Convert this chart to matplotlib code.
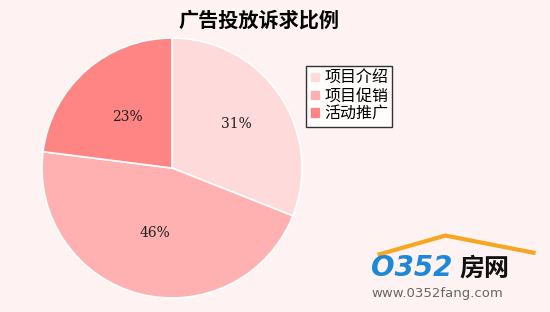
import matplotlib
matplotlib.use("Agg")
import matplotlib.pyplot as plt
import numpy as np

labels = ["项目介绍", "项目促销", "活动推广"]
shares = [31, 46, 23]
colors = ["#FFDADA", "#FFB0B0", "#FF8484"]
title = "广告投放诉求比例"

plt.rcParams['font.family'] = ['Noto Sans CJK SC', 'DejaVu Sans']

fig = plt.figure(figsize=(5.5, 3.12), dpi=100)
fig.patch.set_facecolor("#FFF2F2")

# pie axes: centre (172,168) px, radius 130 px
ax = fig.add_axes([42 / 550, 14 / 312, 260 / 550, 260 / 312])
ax.set_facecolor("none")
wedges, _ = ax.pie(shares, colors=colors, startangle=90, counterclock=False,
                   wedgeprops=dict(edgecolor="white", linewidth=1.2), radius=1.0)
ax.set_xlim(-1, 1)
ax.set_ylim(-1, 1)
ax.set_aspect("equal")

# percentage labels
cum = np.cumsum([0] + shares)
for i, s in enumerate(shares):
    mid = 90 - (cum[i] + s / 2) * 3.6
    r = [0.6, 0.52, 0.52][i]
    ax.text(r * np.cos(np.radians(mid)), r * np.sin(np.radians(mid)), f"{s}%",
            ha="center", va="center", fontsize=10, family="DejaVu Serif", color="#222222")

fig.text(0.471, 0.935, title, ha="center", va="center", fontsize=14.5, fontweight="bold")

leg = fig.legend(wedges, labels, loc="upper left", bbox_to_anchor=(306 / 550, 1 - 66 / 312),
                 frameon=True, fontsize=11.5, handlelength=0.7, handleheight=0.7,
                 handletextpad=0.2, labelspacing=0.05, borderpad=0.25, borderaxespad=0,
                 fancybox=False)
leg.get_frame().set_edgecolor("black")
leg.get_frame().set_linewidth(1)
leg.get_frame().set_facecolor("white")

# watermark
fig.text(0.675, 0.14, "O352", fontsize=20, fontweight="bold", color="#1E88D8",
         family="DejaVu Sans", style="italic", ha="left", va="center")
fig.text(0.835, 0.14, "房网", fontsize=18, fontweight="bold", color="#111111", ha="left", va="center")
fig.text(0.675, 0.058, "www.0352fang.com", fontsize=9.5, color="#666666",
         family="DejaVu Sans", ha="left", va="center")
fig.add_artist(plt.Line2D([0.69, 0.81, 0.97], [0.185, 0.245, 0.19], color="#F5A623", lw=3))

fig.savefig("out.png", dpi=100, facecolor=fig.get_facecolor())
